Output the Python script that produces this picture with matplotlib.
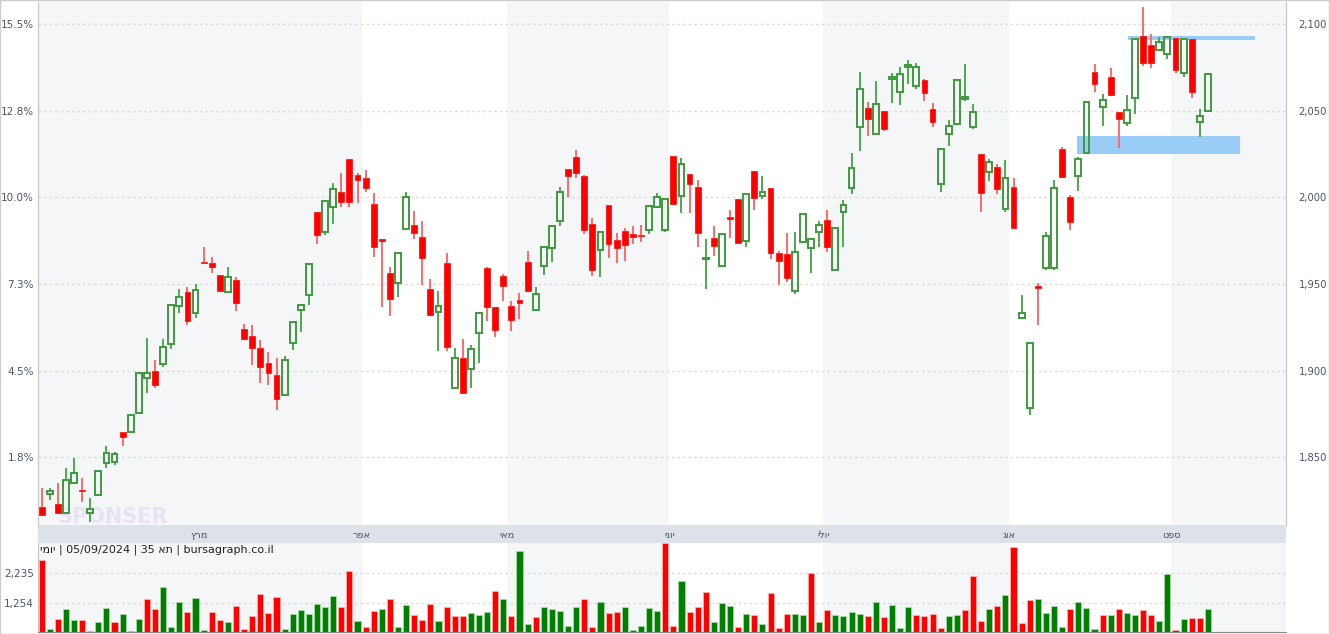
import matplotlib
matplotlib.use("Agg")
import matplotlib.pyplot as plt
from matplotlib.patches import Rectangle

# ---- data ----
opens = [1821.3,1828.8,1823.0,1817.8,1835.2,1831.1,1817.8,1828.2,1846.7,1847.3,
         1864.6,1864.6,1875.5,1895.7,1899.8,1903.8,1915.4,1937.3,1945.4,1933.3,
         1962.7,1962.1,1955.2,1945.4,1952.3,1924.0,1920.0,1913.1,1904.4,1897.5,
         1885.9,1915.9,1935.0,1943.7,1991.5,1980.0,1994.4,2003.1,2022.1,2012.9,
         2011.1,1996.1,1975.9,1956.3,1950.6,1981.7,1984.0,1977.1,1947.1,1933.8,
         1962.1,1890.0,1907.3,1900.9,1921.7,1959.2,1936.7,1954.6,1937.3,1940.8,
         1962.7,1935.0,1960.4,1970.8,1986.3,2016.3,2023.3,2012.3,1984.6,1969.6,
         1995.6,1975.4,1980.6,1978.8,1978.2,1981.1,1994.4,1981.1,2023.8,2000.8,
         2013.5,2006.0,1964.7,1976.5,1960.4,1988.6,1999.0,1974.8,2015.2,2000.8,
         2005.4,1967.9,1967.3,1946.0,1974.2,1970.8,1980.0,1986.9,1958.1,1991.5,
         2005.4,2040.6,2051.5,2036.5,2049.8,2068.3,2060.8,2075.2,2064.2,2067.7,
         2051.0,2007.7,2036.5,2042.3,2056.7,2040.6,2025.0,2014.6,2017.5,1993.3,
         2006.0,1930.4,1878.4,1948.5,1959.2,1959.2,2027.9,2000.2,2012.3,2025.6,
         2072.3,2052.1,2069.4,2049.2,2042.9,2057.3,2093.1,2087.9,2085.0,2082.7,
         2091.9,2071.7,2091.3,2043.5,2049.8]
highs = [1832.3,1832.3,1835.2,1843.6,1849.6,1838.0,1826.5,1842.1,1856.5,1853.0,
         1864.6,1874.4,1898.6,1918.8,1906.1,1918.2,1937.9,1947.1,1948.3,1950.0,
         1971.3,1965.6,1955.2,1959.8,1954.0,1926.9,1926.3,1917.7,1910.8,1907.3,
         1908.5,1928.1,1937.9,1961.5,1991.5,1997.9,2008.3,2014.0,2022.1,2014.0,
         2015.8,2002.5,1975.9,1959.8,1967.9,2003.1,1992.1,1986.3,1952.9,1946.0,
         1967.9,1913.1,1918.2,1914.8,1933.3,1959.8,1936.7,1955.8,1940.2,1944.8,
         1969.0,1948.3,1971.3,1983.5,2006.0,2016.3,2027.3,2012.9,1988.1,1980.0,
         1995.6,1979.4,1982.3,1983.5,1984.0,1995.0,2002.5,1999.0,2023.8,2022.7,
         2013.5,2010.0,1975.9,1983.5,1978.8,1992.7,1999.0,2001.9,2015.2,2012.3,
         2005.4,1969.0,1979.4,1980.0,1990.4,1975.9,1986.3,1992.7,1982.3,1998.5,
         2025.6,2072.3,2055.0,2067.1,2049.8,2071.7,2075.2,2079.2,2077.5,2068.3,
         2054.4,2027.9,2044.6,2067.7,2076.9,2053.8,2025.0,2022.1,2019.2,2021.5,
         2011.1,1943.7,1915.9,1950.6,1980.0,2010.0,2029.0,2001.3,2023.3,2055.6,
         2076.9,2059.6,2074.6,2049.2,2059.0,2091.3,2109.8,2094.2,2092.5,2092.5,
         2091.9,2091.3,2091.3,2051.0,2071.2]
lows = [1816.7,1825.3,1817.8,1817.8,1835.2,1824.2,1812.7,1828.2,1843.6,1845.5,
        1856.5,1864.6,1875.5,1887.1,1890.0,1902.1,1912.5,1933.3,1926.3,1930.4,
        1962.1,1956.3,1946.0,1944.8,1934.4,1917.7,1903.3,1892.9,1891.7,1877.3,
        1885.9,1911.9,1922.3,1937.9,1973.1,1978.3,1984.6,1994.4,1994.4,1996.7,
        2003.1,1965.6,1936.7,1931.5,1942.5,1981.7,1975.9,1949.4,1931.5,1911.4,
        1911.4,1890.0,1887.1,1890.0,1904.4,1928.6,1919.4,1940.2,1922.9,1929.8,
        1946.0,1934.4,1955.2,1962.7,1983.5,2000.2,2011.1,1978.8,1954.6,1954.0,
        1965.0,1962.1,1963.3,1973.1,1974.2,1978.8,1993.8,1980.0,1996.1,1990.9,
        1990.9,1971.3,1947.1,1966.1,1960.4,1976.5,1973.6,1971.3,1992.7,1999.0,
        1964.4,1949.4,1951.1,1944.2,1973.6,1956.3,1971.3,1968.4,1958.1,1971.3,
        2001.9,2026.7,2035.4,2036.5,2038.3,2054.4,2053.3,2065.4,2062.5,2055.6,
        2040.6,2003.1,2029.6,2042.3,2055.6,2039.4,1991.5,2009.4,2001.9,1991.5,
        1982.3,1930.4,1874.4,1926.3,1958.1,1958.1,2011.7,1981.1,2003.6,2025.6,
        2060.8,2041.1,2058.5,2028.5,2041.1,2048.1,2075.8,2074.6,2084.4,2079.8,
        2071.7,2069.4,2057.3,2034.8,2049.8]
closes = [1816.7,1830.5,1817.8,1836.9,1840.9,1830.5,1820.1,1842.1,1852.5,1851.9,
          1861.7,1874.4,1898.6,1898.6,1891.7,1913.6,1937.9,1942.5,1928.6,1946.5,
          1962.1,1959.8,1946.0,1954.0,1939.0,1918.2,1913.1,1902.1,1898.6,1883.6,
          1906.1,1928.1,1937.9,1961.5,1978.3,1997.9,2004.8,1997.3,1997.3,2010.0,
          2005.4,1971.3,1975.0,1941.3,1967.9,2000.2,1979.4,1965.0,1932.1,1937.3,
          1913.6,1907.3,1887.1,1912.5,1933.3,1936.7,1923.4,1948.8,1929.2,1939.0,
          1946.0,1944.2,1971.3,1983.5,2003.1,2012.3,2014.0,1981.1,1958.1,1980.0,
          1973.1,1970.8,1972.5,1977.1,1978.0,1995.0,2000.2,1999.0,1996.1,2019.2,
          2007.7,1979.4,1965.0,1971.9,1978.8,1987.5,1973.6,2001.9,1999.6,2003.1,
          1967.9,1963.3,1953.4,1968.4,1990.4,1975.9,1984.0,1971.3,1982.3,1995.6,
          2016.9,2062.5,2045.2,2053.8,2039.4,2069.4,2071.2,2076.3,2075.2,2060.2,
          2043.5,2027.9,2041.1,2067.7,2057.9,2049.2,2002.5,2020.4,2004.8,2011.1,
          1982.3,1933.3,1915.9,1948.0,1977.7,2005.4,2011.7,1985.8,2022.1,2055.0,
          2065.4,2056.2,2059.0,2045.2,2050.4,2091.3,2077.5,2077.3,2089.6,2092.5,
          2073.5,2091.3,2060.8,2046.9,2071.2]
volumes = [2660,404,731,1058,698,698,330,633,1090,633,
           894,330,731,1385,1058,1777,469,1287,960,1418,
           371,960,698,633,1156,404,829,1548,927,1450,
           404,894,1025,894,1221,1123,1483,1123,2300,665,
           469,992,1058,1385,469,1189,862,698,1221,665,
           1123,839,839,917,872,950,1656,1395,839,2964,
           577,806,1133,1068,1002,512,1133,1395,479,1297,
           937,970,1133,381,512,1100,1002,3216,512,1983,
           970,1133,1604,643,1264,1166,479,904,872,577,
           1571,446,904,904,872,2245,643,1035,872,839,
           970,904,839,1297,806,1189,446,1133,872,839,
           904,446,839,872,1035,2147,675,1068,1166,1525,
           3075,610,1362,1395,937,1166,479,1068,1297,1100,
           414,872,872,1068,937,872,1035,872,675,2212,
           381,741,773,773,1068]
price_ticks = [1850, 1900, 1950, 2000, 2050, 2100]
price_labels = ["1,850", "1,900", "1,950", "2,000", "2,050", "2,100"]
pct_labels = ["1.8%", "4.5%", "7.3%", "10.0%", "12.8%", "15.5%"]
vol_ticks = [1254, 2235]
vol_labels = ["1,254", "2,235"]
month_names = ["ץרמ", "רפא", "יאמ", "ינוי", "ילוי", "גוא", "טפס"]  # visual order
month_starts = [20, 40, 58, 78, 97, 120, 140]
zone_low = (127.8, 148.0, 2025.0, 2035.4)
zone_high = (134.1, 149.8, 2090.8, 2093.1)
caption = "ימוי | 05/09/2024 | 35 את | bursagraph.co.il"

W, H = 1329, 634
fig = plt.figure(figsize=(W/100, H/100), dpi=100)
fig.patch.set_facecolor("white")
L, R = 38/W, 1286/W
ax = fig.add_axes([L, (H-525)/H, R-L, 523/H])
axv = fig.add_axes([L, 2/H, R-L, 89/H])
strip = fig.add_axes([L, (H-543)/H, R-L, 18/H])

n = len(closes)
xs = list(range(n))
xmin, xmax = -0.45, (1286-41.5)/8.1
for a in (ax, axv, strip):
    a.set_xlim(xmin, xmax)

RED = "#ff0000"; GREEN = "#1a8a1a"
SHADE = "#f5f6f8"
bounds = [xmin] + [m - 0.5 for m in month_starts[1:]] + [xmax]
for k in range(len(bounds) - 1):
    if k % 2 == 0:
        for a in (ax, axv):
            a.axvspan(bounds[k], bounds[k+1], color=SHADE, zorder=0, lw=0)

ax.set_ylim(1810.9, 2112.7)
for t in price_ticks:
    ax.axhline(t, color="#dcdcdc", lw=1, ls=(0, (2, 2)), zorder=1)

for (x0, x1, y0, y1) in (zone_low, zone_high):
    ax.add_patch(Rectangle((x0, y0), x1-x0, y1-y0, color="#99ccf7", zorder=1.5, lw=0))

bw = 0.72
for i in xs:
    o, h, l, c = opens[i], highs[i], lows[i], closes[i]
    up = c >= o
    top, bot = max(o, c), min(o, c)
    if top - bot < 0.6:
        top, bot = (top + bot)/2 + 0.3, (top + bot)/2 - 0.3
    wcol = "#4fa84f" if up else "#ff6a6a"
    ax.vlines(i, top, h, color=wcol, lw=1.4, zorder=2)
    ax.vlines(i, l, bot, color=wcol, lw=1.4, zorder=2)
    if up:
        ax.add_patch(Rectangle((i-bw/2, bot), bw, top-bot, facecolor="none",
                               edgecolor="#3f9a3f", lw=1.4, zorder=3))
    else:
        ax.add_patch(Rectangle((i-bw/2, bot), bw, top-bot, facecolor=RED,
                               edgecolor=RED, lw=0.5, zorder=3))

ax.set_yticks(price_ticks)
ax.set_yticklabels(pct_labels)
ax.tick_params(axis="y", length=0, labelsize=7.5, labelcolor="#4a5568", pad=3)
ax.set_xticks([])
axr = ax.twinx()
axr.set_ylim(ax.get_ylim())
axr.set_yticks(price_ticks)
axr.set_yticklabels(price_labels)
axr.tick_params(axis="y", length=0, labelsize=7.2, labelcolor="#4a5568", pad=9)
for a in (ax, axr):
    for s in ("top", "bottom"):
        a.spines[s].set_visible(False)
    a.spines["left"].set_color("#c8c8c8")
    a.spines["right"].set_color("#c8c8c8")

ax.text(2, 1812, "SPONSER", fontsize=15, color="#e6e3f5", zorder=1.2, fontweight="bold")

strip.set_facecolor("#dde1e8")
strip.set_xticks([]); strip.set_yticks([])
for s in strip.spines.values():
    s.set_visible(False)
for name, m in zip(month_names, month_starts):
    strip.text(m - 0.5, 0.45, name, ha="center", va="center", fontsize=7, color="#4a5568")

prev = [closes[0]] + closes[:-1]
vcols = ["#008000" if c > p else RED for c, p in zip(closes, prev)]
vcols[0] = RED
axv.bar(xs, volumes, width=0.75, color=vcols,
        edgecolor=[("#a8d8a8" if c != RED else "#ffb0b0") for c in vcols], lw=0.6, zorder=2)
axv.set_ylim(300, 3216)
for t in vol_ticks:
    axv.axhline(t, color="#dcdcdc", lw=1, ls=(0, (2, 2)), zorder=1)
axv.set_yticks(vol_ticks)
axv.set_yticklabels(vol_labels)
axv.tick_params(axis="y", length=0, labelsize=7.5, labelcolor="#4a5568", pad=3)
axv.set_xticks([])
for s in ("top", "right"):
    axv.spines[s].set_visible(False)
axv.spines["left"].set_color("#c8c8c8")
axv.spines["bottom"].set_color("#888888")
axv.set_facecolor("none")
fig.text(40/W, 1-550/H, caption, fontsize=8, color="#222222", va="center", ha="left")

fig.add_artist(Rectangle((0, 0), 1, 1, transform=fig.transFigure, fill=False,
                         edgecolor="#cccccc", lw=1))
fig.savefig("out.png", dpi=100)
